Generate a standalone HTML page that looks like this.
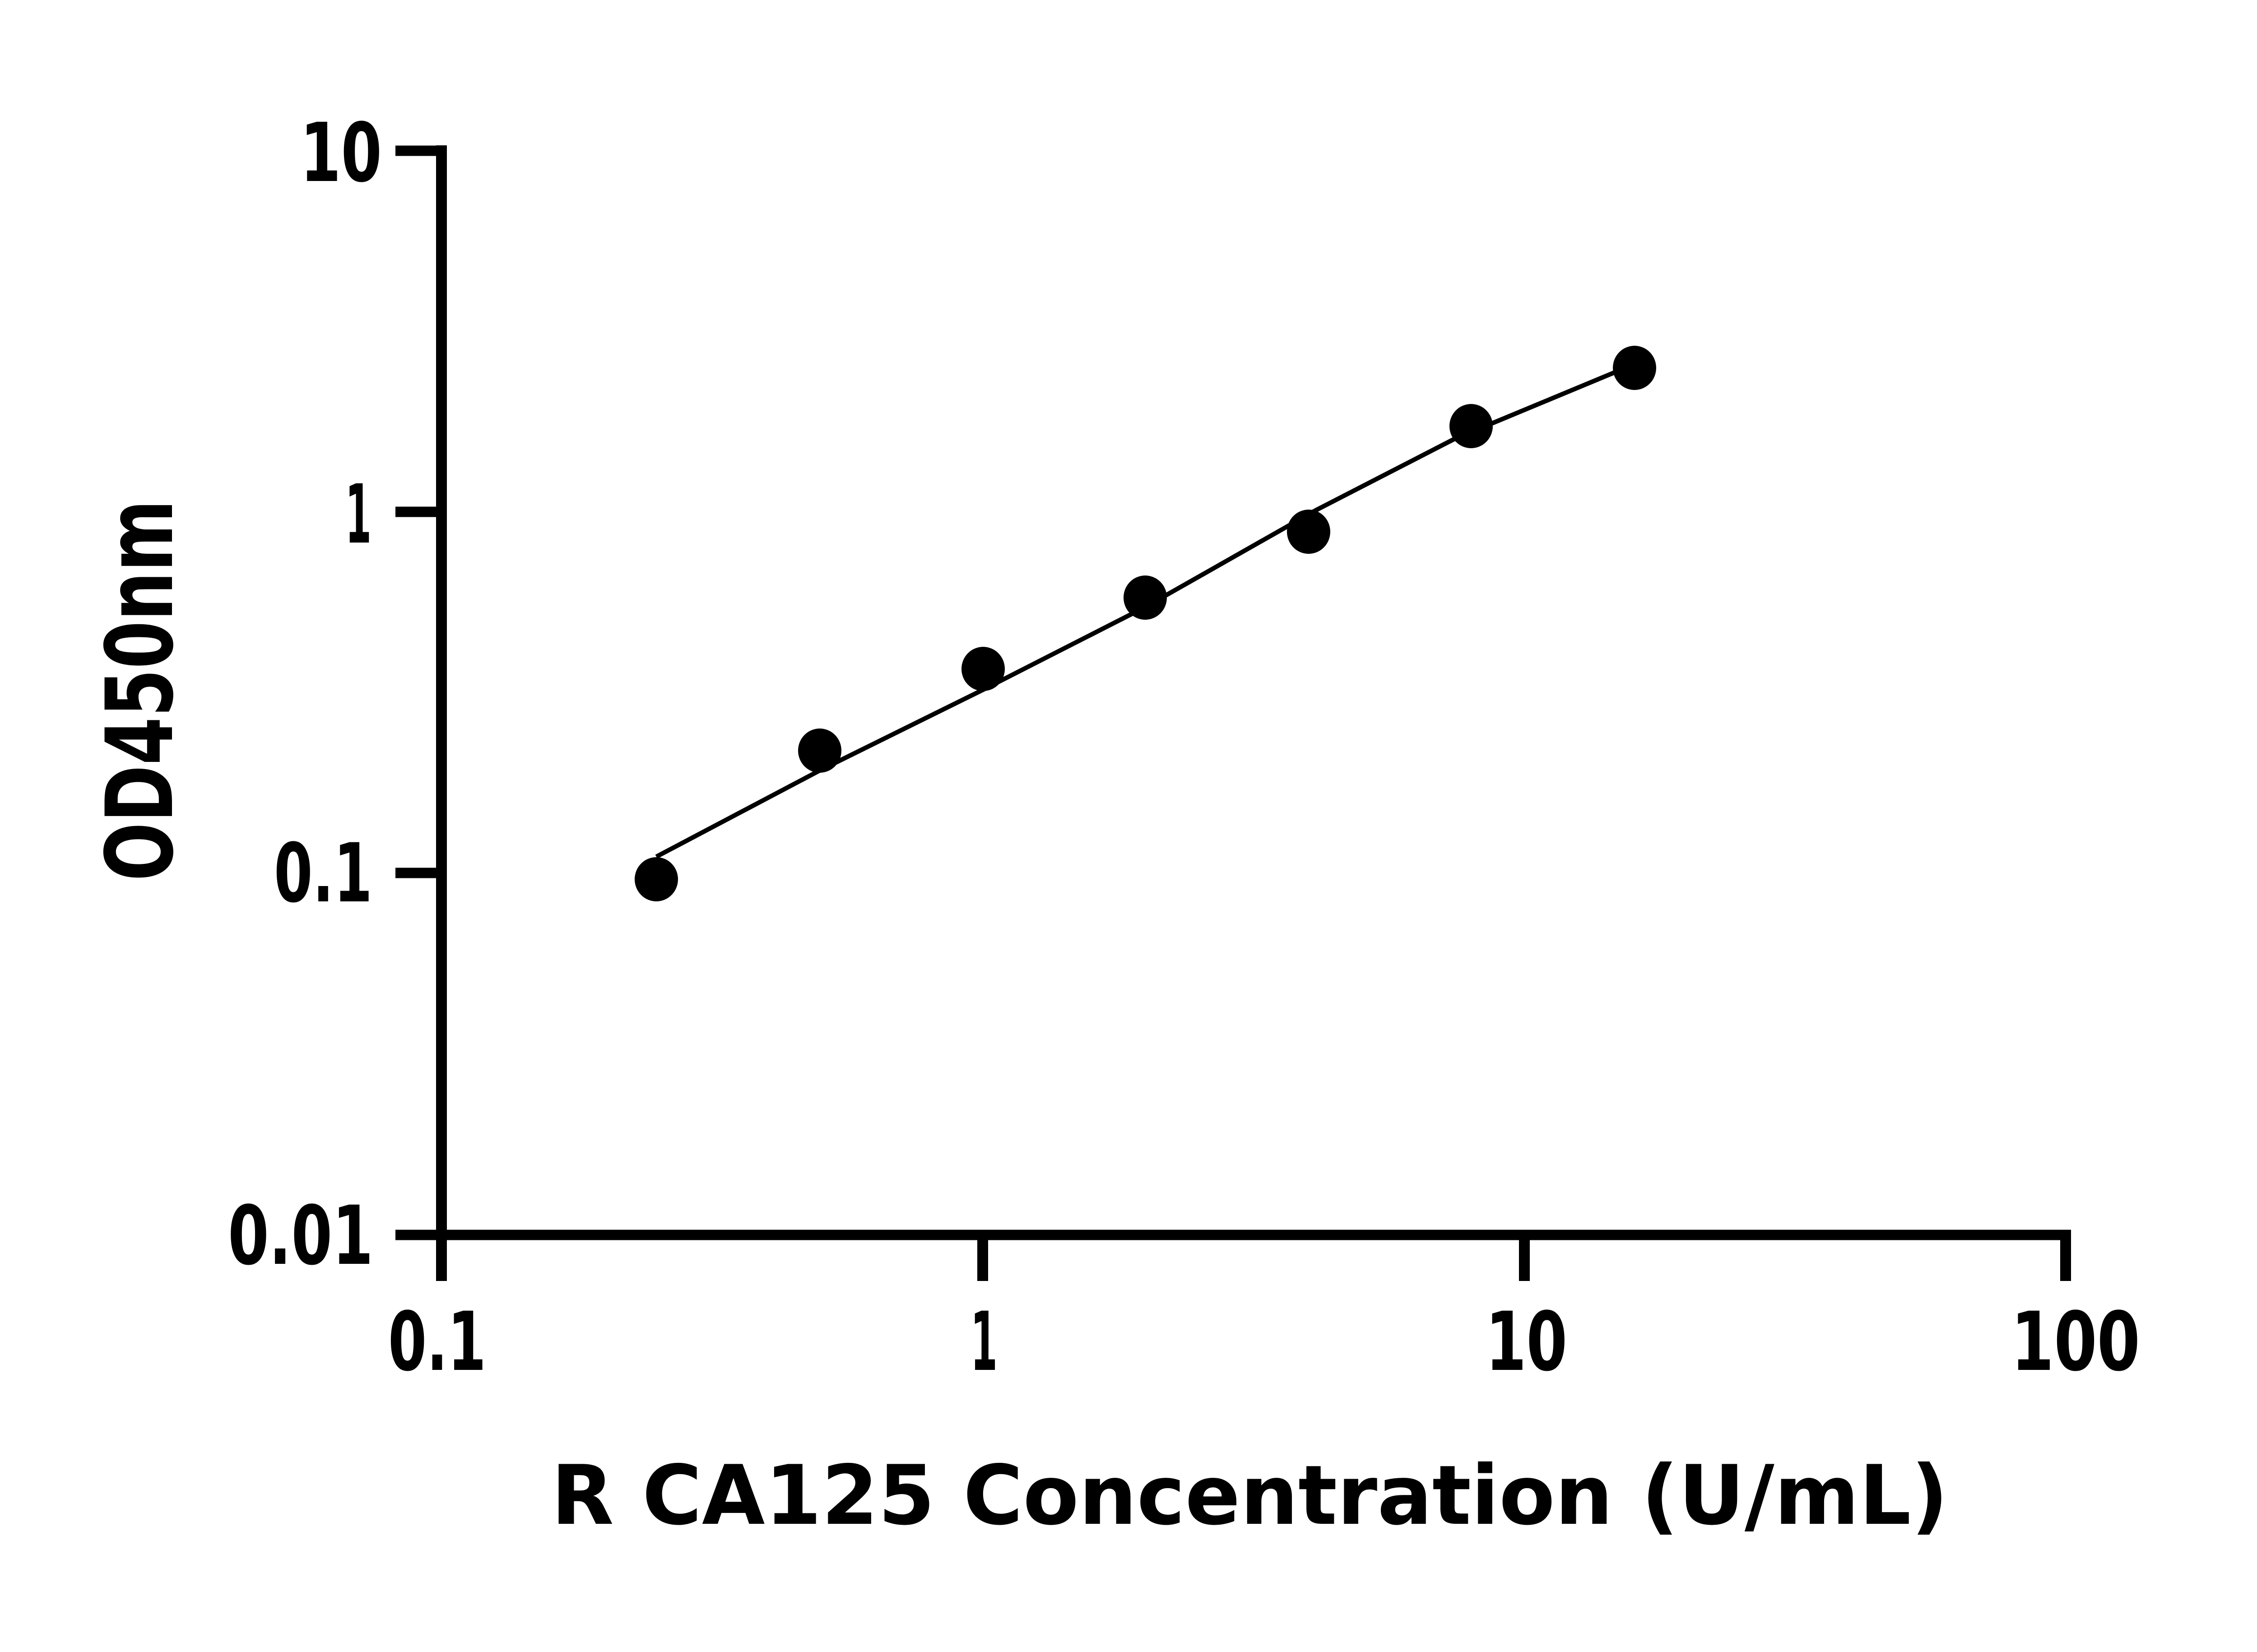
<!DOCTYPE html>
<html><head><meta charset="utf-8"><style>html,body{margin:0;padding:0;background:#fff}svg{display:block}</style></head>
<body>
<svg width="5130" height="3660" viewBox="0 0 5130 3660" xmlns="http://www.w3.org/2000/svg">
<rect width="5130" height="3660" fill="#fff"/>
<g stroke="#000" fill="none" stroke-linecap="butt">
<line x1="978" y1="322" x2="978" y2="2838" stroke-width="24"/>
<line x1="876" y1="334" x2="978" y2="334" stroke-width="23"/>
<line x1="876" y1="1134" x2="978" y2="1134" stroke-width="23"/>
<line x1="876" y1="1934" x2="978" y2="1934" stroke-width="23"/>
<line x1="876" y1="2736" x2="978" y2="2736" stroke-width="23"/>
<line x1="966" y1="2736" x2="4588" y2="2736" stroke-width="23"/>
<line x1="2177" y1="2736" x2="2177" y2="2838" stroke-width="24"/>
<line x1="3377" y1="2736" x2="3377" y2="2838" stroke-width="24"/>
<line x1="4576" y1="2725" x2="4576" y2="2838" stroke-width="24"/>
<polyline points="1454,1898 1816,1707 2178,1528 2537,1345 2914,1131 3221,973 3577,825 3621,808" stroke-width="10" stroke-linejoin="round"/>
</g>
<g fill="#000">
<ellipse cx="1454" cy="1948" rx="48" ry="49"/>
<ellipse cx="1816" cy="1663" rx="48" ry="49"/>
<ellipse cx="2178" cy="1482" rx="48" ry="49"/>
<ellipse cx="2537" cy="1324" rx="48" ry="49"/>
<ellipse cx="2899" cy="1178" rx="48" ry="49"/>
<ellipse cx="3259" cy="944" rx="48" ry="49"/>
<ellipse cx="3621" cy="815" rx="48" ry="49"/>
</g>
<g font-family="'DejaVu Sans','Liberation Sans',sans-serif" font-weight="bold" fill="#000" font-size="180">
<text x="665" y="401" textLength="181" lengthAdjust="spacingAndGlyphs">10</text>
<text x="765" y="1202" textLength="58" lengthAdjust="spacingAndGlyphs">1</text>
<text x="607" y="1997" textLength="218" lengthAdjust="spacingAndGlyphs">0.1</text>
<text x="505" y="2800" textLength="322" lengthAdjust="spacingAndGlyphs">0.01</text>
<text x="860" y="3035" textLength="217" lengthAdjust="spacingAndGlyphs">0.1</text>
<text x="2150" y="3035" textLength="60" lengthAdjust="spacingAndGlyphs">1</text>
<text x="3291" y="3035" textLength="181" lengthAdjust="spacingAndGlyphs">10</text>
<text x="4455" y="3035" textLength="286" lengthAdjust="spacingAndGlyphs">100</text>
<text x="1221" y="3376" font-size="182" textLength="3095" lengthAdjust="spacingAndGlyphs">R CA125 Concentration (U/mL)</text>
<text transform="translate(381,1952) rotate(-90)" font-size="205" textLength="845" lengthAdjust="spacingAndGlyphs">OD450nm</text>
</g>
</svg>
</body></html>
